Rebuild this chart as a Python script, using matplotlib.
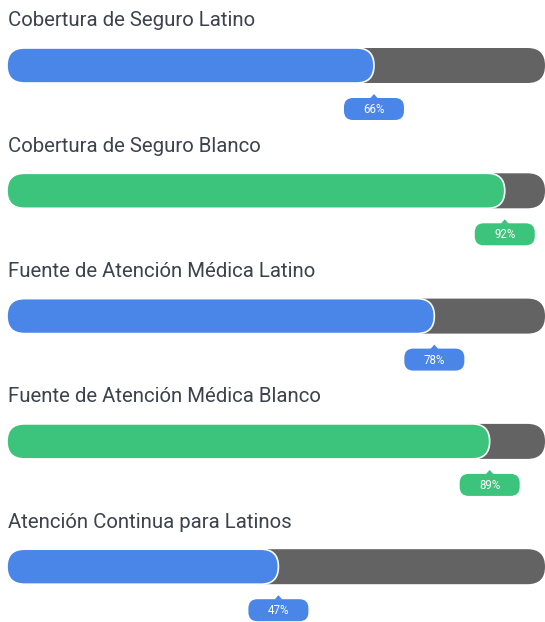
import matplotlib.pyplot as plt
from matplotlib.patches import FancyBboxPatch, Polygon

labels = [
    'Cobertura de Seguro Latino',
    'Cobertura de Seguro Blanco',
    'Fuente de Atención Médica Latino',
    'Fuente de Atención Médica Blanco',
    'Atención Continua para Latinos',
]
values = [66, 92, 78, 89, 47]
colors = ['#4a86e8', '#3cc47c', '#4a86e8', '#3cc47c', '#4a86e8']

plt.rcParams['font.family'] = ['Roboto', 'DejaVu Sans']

W, H = 545, 622
fig = plt.figure(figsize=(W / 100, H / 100), dpi=100)
ax = fig.add_axes([0, 0, 1, 1])
ax.set_xlim(0, W)
ax.set_ylim(H, 0)
ax.axis('off')

x0, bw, bh = 7, 538, 35
row = 125.3
for i, (lab, v, c) in enumerate(zip(labels, values, colors)):
    top = 48 + i * row
    ax.text(x0 + 1, top - 27, lab, fontsize=14.7, color='#3d424d', va='center', ha='left')
    # track
    ax.add_patch(FancyBboxPatch((x0, top), bw, bh, boxstyle=f'round,pad=0,rounding_size={bh/2}',
                                fc='#636363', ec='none'))
    # fill
    end = x0 + bh + v / 100 * (bw - bh)
    ax.add_patch(FancyBboxPatch((x0, top), end - x0, bh, boxstyle=f'round,pad=0,rounding_size={bh/2}',
                                fc=c, ec='white', lw=1.2))
    # badge
    by = top + 50
    bwid, bht = 60, 22
    ax.add_patch(FancyBboxPatch((end - bwid / 2, by), bwid, bht, boxstyle='round,pad=0,rounding_size=9',
                                fc=c, ec='none'))
    ax.add_patch(Polygon([[end - 4, by + 0.5], [end + 4, by + 0.5], [end, by - 4]], closed=True, fc=c, ec='none'))
    ax.text(end, by + bht / 2 + 0.5, f'{v}%', fontsize=8.3, color='white', ha='center', va='center')

fig.savefig('out.png', dpi=100)
